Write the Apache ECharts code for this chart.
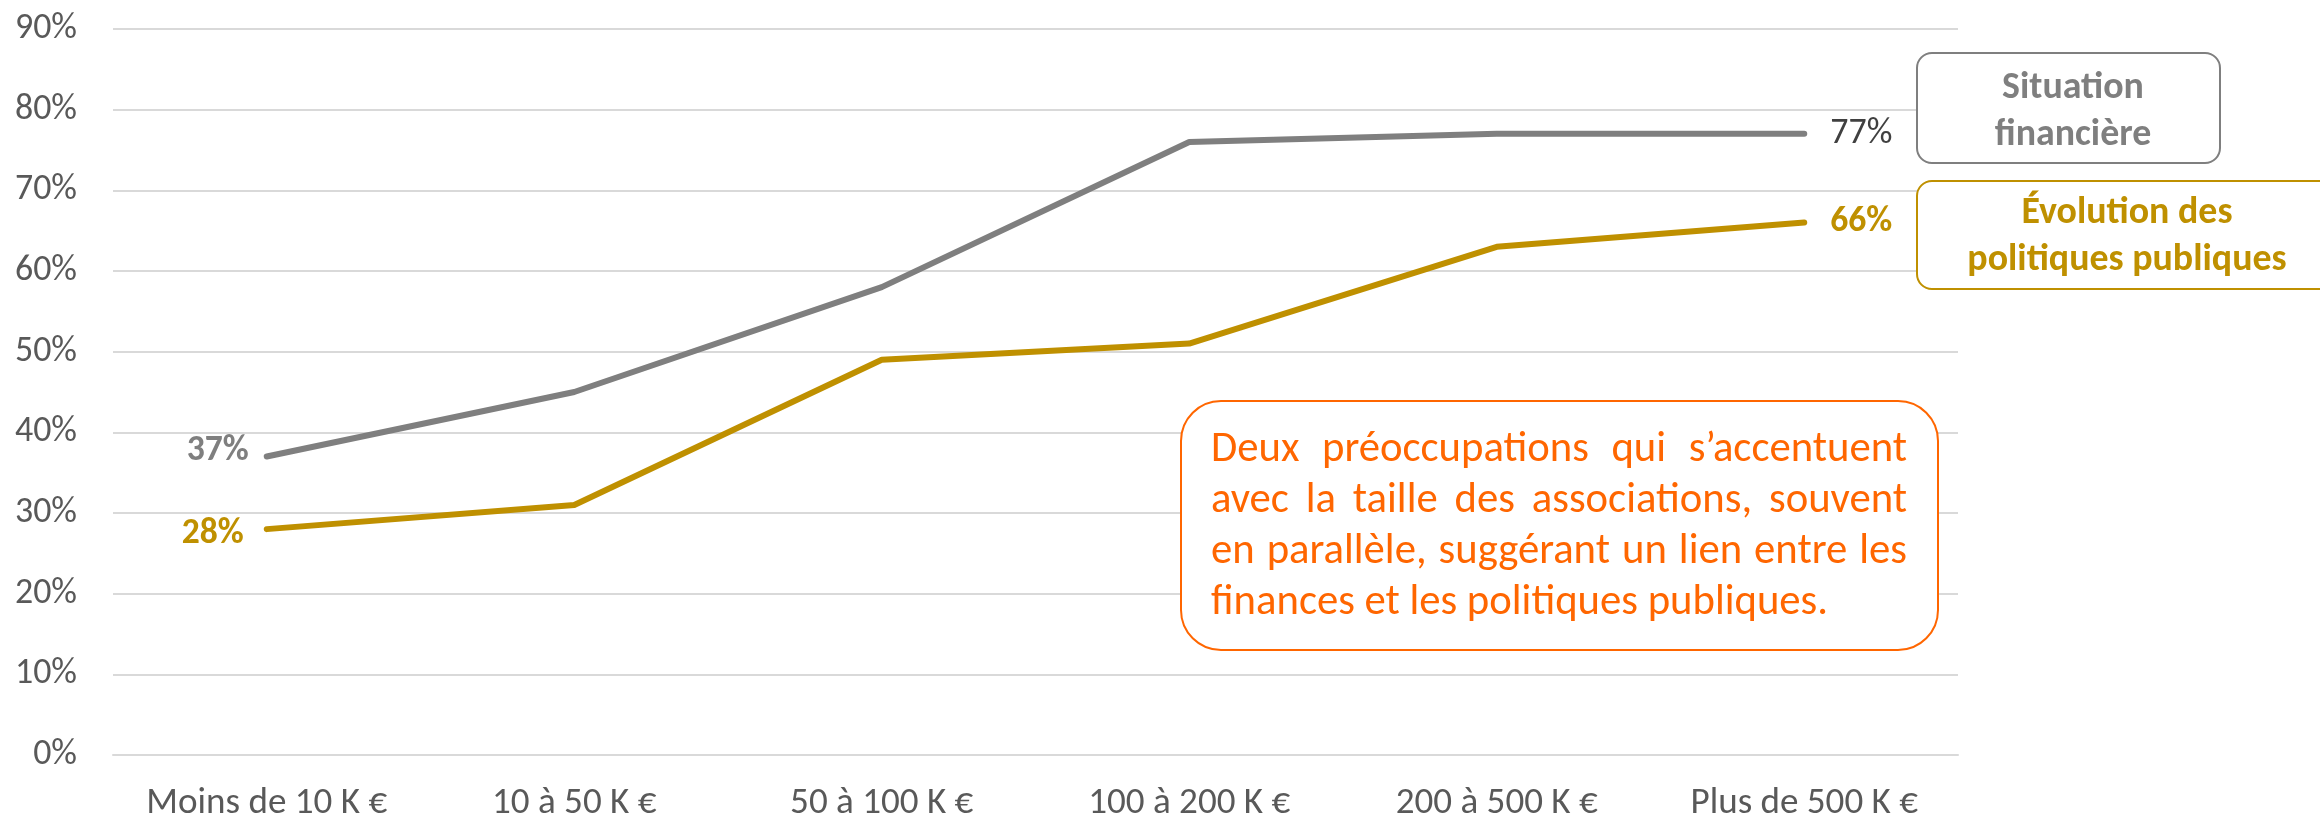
<!DOCTYPE html>
<html>
<head>
<meta charset="utf-8">
<script src="https://cdn.jsdelivr.net/npm/echarts@6/dist/echarts.min.js"></script>
<style>
html,body{margin:0;padding:0;background:#fff;}
#chart{width:2320px;height:822px;}
</style>
</head>
<body>
<div id="chart"></div>
<script>
const categories = ['Moins de 10 K €', '10 à 50 K €', '50 à 100 K €', '100 à 200 K €', '200 à 500 K €', 'Plus de 500 K €'];
const situationFinanciere = [37, 45, 58, 76, 77, 77];
const evolutionPolitiques = [28, 31, 49, 51, 63, 66];
const yTicks = [0, 10, 20, 30, 40, 50, 60, 70, 80, 90];
const seriesNames = ['Situation financière', 'Évolution des politiques publiques'];
const legendLines1 = ['Situation', 'financière'];
const legendLines2 = ['Évolution des', 'politiques publiques'];
const annotationLines = [
  'Deux préoccupations qui s’accentuent',
  'avec la taille des associations, souvent',
  'en parallèle, suggérant un lien entre les',
  'finances et les politiques publiques.'
];

const ctx = document.createElement('canvas').getContext('2d');
function hasFont(name) {
  ctx.font = '100px monospace';
  const a = ctx.measureText('Moins de 10 K € abcxyz').width;
  ctx.font = '100px "' + name + '", monospace';
  const b = ctx.measureText('Moins de 10 K € abcxyz').width;
  return Math.abs(a - b) > 0.5;
}
const FAMILY = hasFont('Carlito') ? '"Carlito"' : (hasFont('Lato') ? '"Lato"' : '"Liberation Sans"');
const FONT = FAMILY + ', sans-serif';
function fit(text, target, weight) {
  ctx.font = (weight || 'normal') + ' 100px ' + FONT;
  return Math.round(100 * target / ctx.measureText(text).width * 10) / 10;
}
const yFs = fit('90%', 62);
const xFs = fit('Moins de 10 K €', 241);
const lblBoldFs = fit('37%', 62, 'bold');
const lblFs = fit('77%', 62);
const legFs = 1.04 * (fit('Situation', 128, 'bold') + fit('politiques publiques', 330, 'bold') + fit('financière', 149, 'bold')) / 3;
const annFs = fit(annotationLines[3], 617);

const GRAY = '#7f7f7f';
const GOLD = '#BF9000';
const ORANGE = '#FF6600';

function withLabels(values, first, last) {
  return values.map((v, i) => {
    if (i === 0) return { value: v, label: first };
    if (i === values.length - 1) return { value: v, label: last };
    return v;
  });
}

// justified annotation text
ctx.font = annFs + 'px ' + FONT;
const annLeft = 1211, annRight = 1907, annTop = 450, annLineH = 51;
const annGraphics = [];
annotationLines.forEach((line, li) => {
  const words = line.split(' ');
  const y = annTop + li * annLineH;
  const widths = words.map(w => ctx.measureText(w).width);
  const total = widths.reduce((a, b) => a + b, 0);
  const space = ctx.measureText(' ').width;
  const gap = li === annotationLines.length - 1 ? space : (annRight - annLeft - total) / (words.length - 1);
  let x = annLeft;
  words.forEach((w, wi) => {
    annGraphics.push({ type: 'text', x: x, y: y, z: 10,
      style: { text: w, font: annFs + 'px ' + FONT, fill: ORANGE, verticalAlign: 'middle', align: 'left' } });
    x += widths[wi] + gap;
  });
});

function legendText(lines, cx, ys, color) {
  return lines.map((t, i) => ({ type: 'text', x: cx, y: ys[i], z: 6,
    style: { text: t, font: 'bold ' + legFs + 'px ' + FONT, fill: color, align: 'center', verticalAlign: 'middle' } }));
}

const chart = echarts.init(document.getElementById('chart'));
chart.setOption({
  animation: false,
  backgroundColor: '#fff',
  grid: { left: 113, right: 362, top: 29, bottom: 62, containLabel: false },
  xAxis: {
    type: 'category',
    data: categories,
    boundaryGap: true,
    axisLine: { show: true, lineStyle: { color: '#d9d9d9', width: 2 } },
    axisTick: { show: false },
    axisLabel: { interval: 0, color: '#595959', fontSize: xFs, fontFamily: FAMILY, margin: 30 }
  },
  yAxis: {
    type: 'value',
    min: yTicks[0],
    max: yTicks[yTicks.length - 1],
    interval: 10,
    axisLine: { show: false },
    axisTick: { show: false },
    splitLine: { lineStyle: { color: '#d9d9d9', width: 2 } },
    axisLabel: { color: '#595959', fontSize: yFs, fontFamily: FAMILY, margin: 36, formatter: '{value}%' }
  },
  series: [
    {
      name: seriesNames[0],
      type: 'line',
      data: withLabels(situationFinanciere,
        { show: true, position: 'left', distance: 18, offset: [0, -5], formatter: '{c}%', color: GRAY, fontWeight: 'bold', fontSize: lblBoldFs, fontFamily: FAMILY },
        { show: true, position: 'right', distance: 26, formatter: '{c}%', color: '#404040', fontSize: lblFs, fontFamily: FAMILY }),
      symbol: 'circle',
      symbolSize: 0,
      showSymbol: true,
      lineStyle: { color: GRAY, width: 6, cap: 'round', join: 'round' },
      itemStyle: { color: GRAY },
      label: { show: false },
      z: 3
    },
    {
      name: seriesNames[1],
      type: 'line',
      data: withLabels(evolutionPolitiques,
        { show: true, position: 'left', distance: 23, offset: [0, 5], formatter: '{c}%', color: GOLD, fontWeight: 'bold', fontSize: lblBoldFs, fontFamily: FAMILY },
        { show: true, position: 'right', distance: 26, formatter: '{c}%', color: GOLD, fontWeight: 'bold', fontSize: lblBoldFs, fontFamily: FAMILY }),
      symbol: 'circle',
      symbolSize: 0,
      showSymbol: true,
      lineStyle: { color: GOLD, width: 6, cap: 'round', join: 'round' },
      itemStyle: { color: GOLD },
      label: { show: false },
      z: 4
    }
  ],
  graphic: [
    { type: 'rect', shape: { x: 1917, y: 53, width: 303, height: 110, r: 15 }, z: 5,
      style: { fill: '#fff', stroke: GRAY, lineWidth: 2 } },
    { type: 'rect', shape: { x: 1917, y: 181, width: 430, height: 108, r: 15 }, z: 5,
      style: { fill: '#fff', stroke: GOLD, lineWidth: 2 } },
    { type: 'rect', shape: { x: 1181, y: 401, width: 757, height: 249, r: 40 }, z: 9,
      style: { fill: '#fff', stroke: ORANGE, lineWidth: 2 } }
  ].concat(legendText(legendLines1, 2073, [89, 136], GRAY))
   .concat(legendText(legendLines2, 2127, [214, 261], GOLD))
   .concat(annGraphics)
});
</script>
</body>
</html>
